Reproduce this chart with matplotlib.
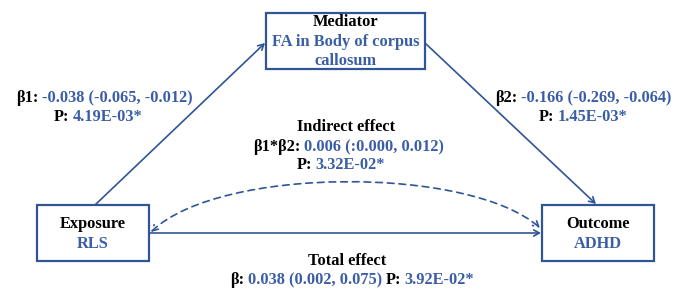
import matplotlib
matplotlib.use("Agg")
import matplotlib.pyplot as plt
from matplotlib.patches import Rectangle, FancyArrowPatch
from matplotlib.path import Path

# ---- data / text ----
mediator_title = "Mediator"
mediator_lines = ["FA in Body of corpus", "callosum"]
exposure_title = "Exposure"
exposure_name = "RLS"
outcome_title = "Outcome"
outcome_name = "ADHD"

beta1 = "-0.038 (-0.065, -0.012)"
p1 = "4.19E-03*"
beta2 = "-0.166 (-0.269, -0.064)"
p2 = "1.45E-03*"
indirect_title = "Indirect effect"
indirect_beta = "0.006 (:0.000, 0.012)"
indirect_p = "3.32E-02*"
total_title = "Total effect"
total_beta = "0.038 (0.002, 0.075)"
total_p = "3.92E-02*"

BLUE_LINE = "#2F5597"
BLUE_TEXT = "#3A5DA6"
BLACK = "#000000"
FONT = dict(family=["Liberation Serif", "DejaVu Serif"], weight="bold", size=11.8)

W, H = 676, 289
fig = plt.figure(figsize=(W / 100, H / 100), dpi=100)
ax = fig.add_axes([0, 0, 1, 1])
ax.set_xlim(0, W)
ax.set_ylim(H, 0)
ax.axis("off")

renderer = fig.canvas.get_renderer()
GAP = 3.5


def line(xc, y, pieces):
    texts = []
    for s, c in pieces:
        t = ax.text(0, y, s, color=c, ha="left", va="center", **FONT)
        texts.append(t)
    widths = [t.get_window_extent(renderer).width for t in texts]
    total = sum(widths) + GAP * (len(widths) - 1)
    x = xc - total / 2
    for t, w in zip(texts, widths):
        t.set_x(x)
        x += w + GAP


# boxes
boxes = {
    "med": (266, 13, 425, 69),
    "exp": (37, 205, 149, 261),
    "out": (542, 205, 654, 261),
}
for (x0, y0, x1, y1) in boxes.values():
    ax.add_patch(Rectangle((x0, y0), x1 - x0, y1 - y0, fill=False,
                           edgecolor=BLUE_LINE, lw=1.6))

# box texts
line(345.5, 22, [(mediator_title, BLACK)])
line(345.5, 42, [(mediator_lines[0], BLUE_TEXT)])
line(345.5, 61, [(mediator_lines[1], BLUE_TEXT)])
line(93, 224, [(exposure_title, BLACK)])
line(93, 244, [(exposure_name, BLUE_TEXT)])
line(598, 224, [(outcome_title, BLACK)])
line(598, 244, [(outcome_name, BLUE_TEXT)])

# arrows
akw = dict(arrowstyle="->,head_length=4,head_width=2.2", color=BLUE_LINE,
           lw=1.2, shrinkA=0, shrinkB=0, mutation_scale=1)
ax.add_patch(FancyArrowPatch((95, 205), (265, 43), **akw))
ax.add_patch(FancyArrowPatch((425, 43), (596, 204), **akw))
ax.add_patch(FancyArrowPatch((149, 233), (541, 233), **akw))

# dashed curved arrow (indirect)
verts = [(151, 232), (220, 166), (470, 166), (540, 228)]
codes = [Path.MOVETO, Path.CURVE4, Path.CURVE4, Path.CURVE4]
ax.add_patch(FancyArrowPatch(path=Path(verts, codes),
                             arrowstyle="<->,head_length=4,head_width=2.2",
                             color=BLUE_LINE, lw=1.2, linestyle=(0, (4, 3)),
                             mutation_scale=1))

# effect labels
line(104, 98, [("β1:", BLACK), (beta1, BLUE_TEXT)])
line(98, 117, [("P:", BLACK), (p1, BLUE_TEXT)])
line(583, 98, [("β2:", BLACK), (beta2, BLUE_TEXT)])
line(583, 117, [("P:", BLACK), (p2, BLUE_TEXT)])
line(346, 127, [(indirect_title, BLACK)])
line(349, 147, [("β1*β2:", BLACK), (indirect_beta, BLUE_TEXT)])
line(341, 165, [("P:", BLACK), (indirect_p, BLUE_TEXT)])
line(347, 261, [(total_title, BLACK)])
line(352, 280, [("β:", BLACK), (total_beta, BLUE_TEXT), ("P:", BLACK), (total_p, BLUE_TEXT)])

fig.savefig("out.png", dpi=100)
